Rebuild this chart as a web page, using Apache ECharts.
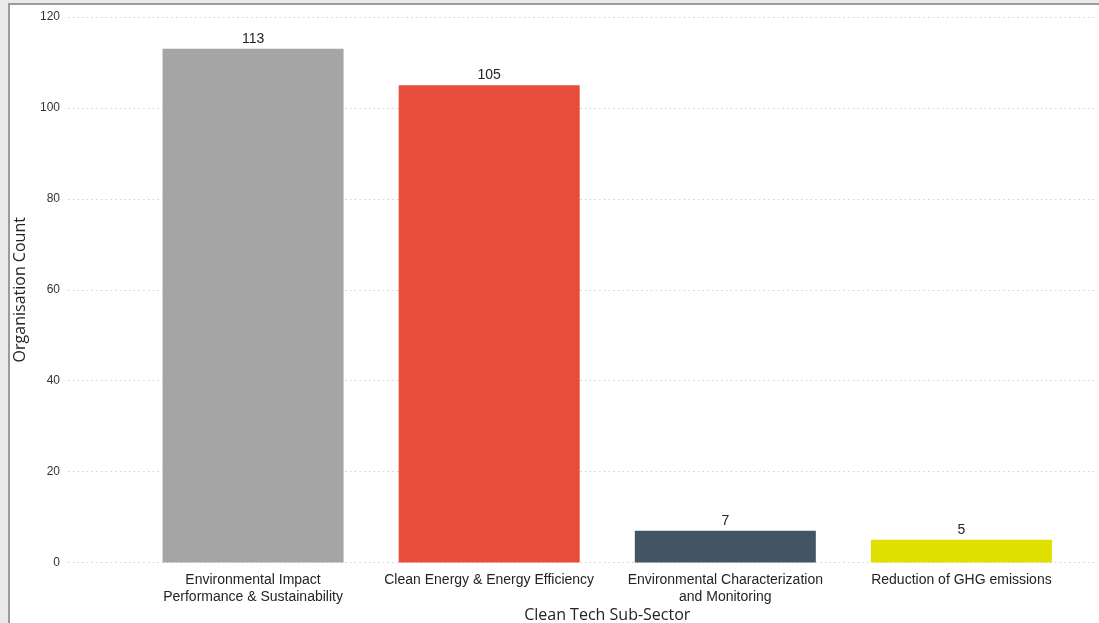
<!DOCTYPE html>
<html><head><meta charset="utf-8">
<script src="https://cdn.jsdelivr.net/npm/echarts@6/dist/echarts.min.js"></script>
<style>
html,body{margin:0;padding:0;background:#e9e9e9;overflow:hidden}
#frame{position:absolute;left:8px;top:3px;width:1100px;height:630px;background:#fff;border-left:2px solid #9b9b9b;border-top:2px solid #9b9b9b}
#chart{position:absolute;left:0;top:0;width:1099px;height:623px}
</style></head>
<body>
<div id="frame"></div>
<div id="chart"></div>
<script>
const categories = ["Environmental Impact\nPerformance & Sustainability", "Clean Energy & Energy Efficiency", "Environmental Characterization\nand Monitoring", "Reduction of GHG emissions"];
const counts = [113, 105, 7, 5];
const barColors = ["#a5a5a5", "#e84c3b", "#425563", "#e0e000"];
const yTicks = [0, 20, 40, 60, 80, 100, 120];

const chart = echarts.init(document.getElementById('chart'), null, {renderer:'canvas'});
const nameFont = '"Open Sans", "DejaVu Sans", sans-serif';
chart.setOption({
  backgroundColor: 'transparent',
  animation: false,
  grid: [
    {left: 68, right: 2, top: 17, bottom: 60.5, outerBoundsMode: 'none', containLabel: false},
    {left: 135, right: 19.5, top: 17, bottom: 60.5, outerBoundsMode: 'none', containLabel: false}
  ],
  xAxis: [
    {type: 'category', gridIndex: 0, data: [], show: false},
    {type: 'category', gridIndex: 1, data: categories,
     axisLine: {show: false}, axisTick: {show: false},
     axisLabel: {interval: 0, margin: 9, fontSize: 14, lineHeight: 17, color: '#252423', fontFamily: '"Liberation Sans", Arial, sans-serif'},
     name: 'Clean Tech Sub-Sector', nameLocation: 'middle', nameGap: 45, nameMoveOverlap: false,
     nameTextStyle: {fontSize: 16, color: '#252423', fontFamily: nameFont}}
  ],
  yAxis: [
    {type: 'value', gridIndex: 0, min: yTicks[0], max: yTicks[yTicks.length-1], interval: 20,
     axisLine: {show: false}, axisTick: {show: false},
     axisLabel: {margin: 8, fontSize: 12, color: '#333333', fontFamily: '"Liberation Sans", Arial, sans-serif'},
     splitLine: {show: true, lineStyle: {color: '#d0d0d0', width: 1, type: [1.5, 3.2]}},
     name: 'Organisation Count', nameLocation: 'middle', nameGap: 40, nameMoveOverlap: false,
     nameTextStyle: {fontSize: 16, color: '#252423', fontFamily: nameFont}},
    {type: 'value', gridIndex: 1, min: yTicks[0], max: yTicks[yTicks.length-1], interval: 20, show: false, splitLine: {show: false}}
  ],
  series: [{
    type: 'bar', xAxisIndex: 1, yAxisIndex: 1,
    barWidth: 181,
    data: counts.map((v, i) => ({value: v, itemStyle: {color: barColors[i]}})),
    label: {show: true, position: 'top', distance: 3, fontSize: 14, color: '#252423', fontFamily: '"Liberation Sans", Arial, sans-serif'}
  }]
});
</script>
</body></html>
